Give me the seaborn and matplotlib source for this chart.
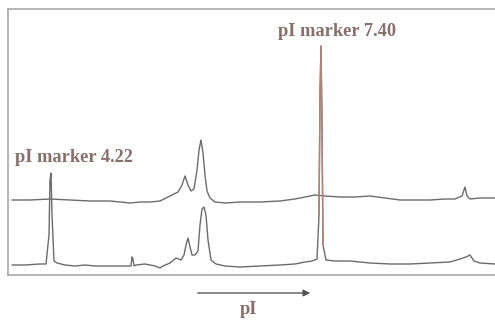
import matplotlib
matplotlib.use("Agg")
import matplotlib.pyplot as plt
import seaborn as sns

# Electropherogram traces (x = migration position, y = signal)
upper_x = [12, 30, 50, 70, 90, 110, 130, 140, 150, 160, 168, 174, 178, 182, 185, 188, 191, 194, 197,
           199, 201, 203, 205, 207, 210, 215, 225, 240, 260, 280, 295, 305, 315, 325, 340, 355, 370,
           385, 400, 415, 430, 445, 455, 462, 465, 467, 470, 480, 495]
upper_y = [75, 75, 76, 75, 74, 74, 72, 73, 73, 74, 78, 81, 83, 90, 99, 90, 84, 86, 105,
           125, 135, 122, 100, 84, 77, 73, 72, 73, 73, 74, 76, 78, 80, 79, 78, 78, 79,
           77, 75, 75, 75, 76, 76, 79, 88, 79, 76, 77, 77]

lower_x = [12, 25, 40, 46, 49, 50, 51, 52, 54, 57, 65, 75, 85, 95, 110, 125, 131, 132, 133, 134, 136,
           145, 155, 160, 163, 170, 176, 181, 184, 186, 188, 190, 192, 195, 198, 200, 202, 204, 206, 208,
           211, 216, 225, 240, 260, 280, 295, 305, 312, 317, 319, 320, 321, 322, 323, 326, 335, 350,
           370, 390, 410, 430, 450, 460, 466, 470, 474, 480, 495]
lower_y = [10, 10, 11, 11, 40, 95, 102, 60, 14, 12, 10, 9, 10, 9, 9, 9, 9, 18, 16, 9, 10,
           11, 9, 7, 9, 12, 17, 15, 20, 30, 37, 28, 20, 20, 24, 50, 66, 68, 60, 35,
           15, 11, 9, 8, 9, 10, 11, 13, 14, 16, 60, 180, 229, 150, 30, 15, 14, 14,
           12, 11, 11, 12, 13, 16, 18, 20, 14, 12, 11]

marker_labels = ["pI marker 4.22", "pI marker 7.40"]

sns.set_style("white")
fig = plt.figure(figsize=(4.95, 3.23), dpi=100)
ax = fig.add_axes([8 / 495, 1 - 275 / 323, 500 / 495, 266 / 323])

trace_color = "#6e6a6a"
sns.lineplot(x=upper_x, y=upper_y, ax=ax, color=trace_color, linewidth=1.0, estimator=None, sort=False)
sns.lineplot(x=lower_x, y=lower_y, ax=ax, color=trace_color, linewidth=1.0, estimator=None, sort=False)
# the 7.40 marker spike looks reddish in the scan
spike = slice(lower_x.index(319), lower_x.index(323) + 1)
sns.lineplot(x=lower_x[spike], y=lower_y[spike], ax=ax, color="#b08478", linewidth=1.0,
             estimator=None, sort=False)

ax.set_xlim(8, 508)
ax.set_ylim(0, 266)
ax.set_xticks([])
ax.set_yticks([])
for side in ["left", "top", "bottom"]:
    ax.spines[side].set_color("#a8a8a8")
    ax.spines[side].set_linewidth(1.2)
ax.spines["right"].set_visible(False)

text_kw = dict(family="Liberation Serif", fontweight="bold", fontsize=13.2, color="#85706b")
ax.text(15, 118, marker_labels[0], ha="left", va="center", **text_kw)
ax.text(278, 243, marker_labels[1], ha="left", va="center", **text_kw)

# pI direction arrow below the panel
fig.add_artist(matplotlib.patches.FancyArrowPatch(
    (195 / 495, 1 - 293 / 323), (313 / 495, 1 - 293 / 323), transform=fig.transFigure,
    arrowstyle="-|>,head_length=4,head_width=2", color="#555555", linewidth=1))
fig.text(248 / 495, 1 - 309 / 323, "pI", ha="center", va="center", **text_kw)

fig.savefig("out.png", dpi=100, facecolor="white")
